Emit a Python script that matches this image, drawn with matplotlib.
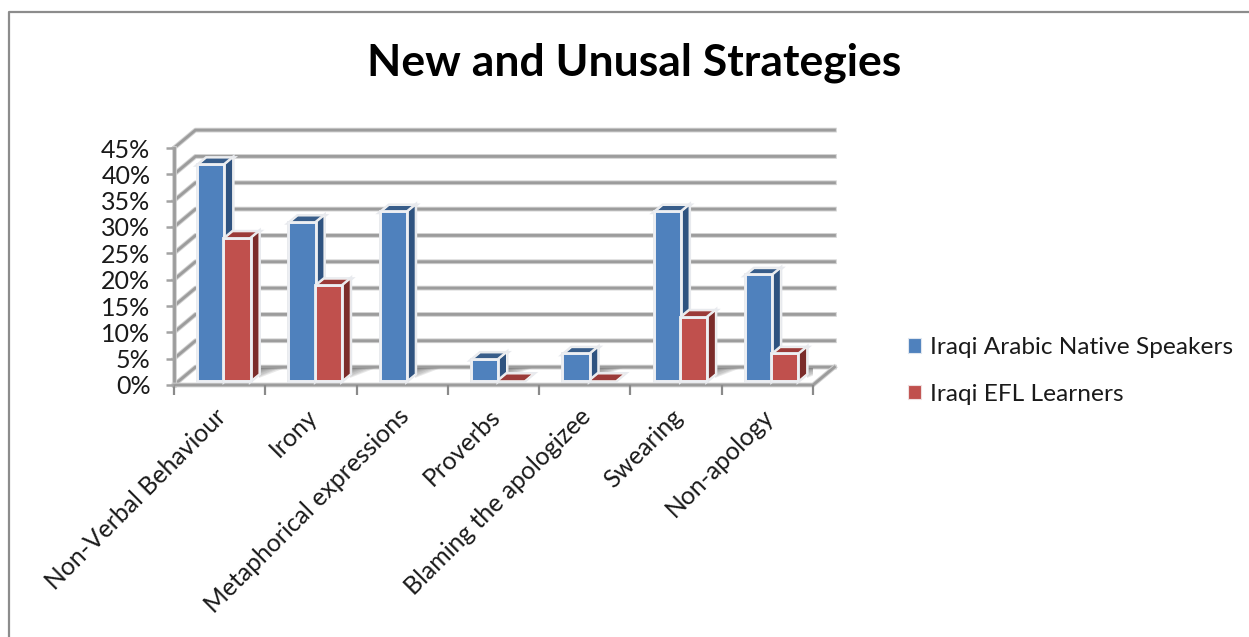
import numpy as np
import matplotlib
matplotlib.use('Agg')
import matplotlib.pyplot as plt
import matplotlib.patheffects as pe
from matplotlib.patches import Polygon, Rectangle
from matplotlib.lines import Line2D

categories = ['Non-Verbal Behaviour', 'Irony', 'Metaphorical expressions', 'Proverbs',
              'Blaming the apologizee', 'Swearing', 'Non-apology']
native = [41, 30, 32, 4, 5, 32, 20]
efl = [27, 18, np.nan, 0, 0, 12, 5]
series_names = ['Iraqi Arabic Native Speakers', 'Iraqi EFL Learners']
y_ticks = [0, 5, 10, 15, 20, 25, 30, 35, 40, 45]

W, H = 1249, 637
plt.rcParams['font.family'] = ['Lato', 'DejaVu Sans']

fig = plt.figure(figsize=(W / 100, H / 100), dpi=100)

# frame of the chart, only top and left are inside the crop
bg = fig.add_axes([0, 0, 1, 1])
bg.set_xlim(0, W)
bg.set_ylim(H, 0)
bg.axis('off')
bg.add_line(Line2D([9, 9, W], [H, 12, 12], color='#8c8c8c', lw=1.6))

# plot area: 7 categories over 174-813 px, 0-45% over 385-148 px
ax = fig.add_axes([174 / W, 1 - 385 / H, (813 - 174) / W, (385 - 148) / H])
ax.set_xlim(0, 7)
ax.set_ylim(0, 45)
ax.patch.set_alpha(0)
for s in ax.spines.values():
    s.set_visible(False)

# depth of the box and of the bars, in axis units
wall_dx, wall_dy = 0.235, 3.4
bar_dx, bar_dy = 0.09, 1.3
bar_off, bar_w = 0.265, 0.288
base_dy = 0.8
halo = [pe.withStroke(linewidth=2.8, foreground='#e8eaee')]


def soft_line(xs, ys, lw=2.0):
    ax.plot(xs, ys, color='#d0d0d0', lw=lw + 1.4, clip_on=False, zorder=1, solid_joinstyle='round')
    ax.plot(xs, ys, color='#9c9c9c', lw=lw, clip_on=False, zorder=1, solid_joinstyle='round')


# gridlines and walls
for t in y_ticks:
    soft_line([0, wall_dx, 7 + wall_dx], [t, t + wall_dy, t + wall_dy])
soft_line([0, 0], [0, 45])
soft_line([0, 7, 7 + wall_dx], [0, 0, wall_dy])


def draw_bars(values, offset, front, top, side):
    for i, v in enumerate(values):
        if np.isnan(v):
            continue
        x0 = i + offset
        x1 = x0 + bar_w
        y0 = base_dy
        y1 = y0 + v
        ax.add_patch(Polygon([[x0, y1], [x0 + bar_dx, y1 + bar_dy], [x1 + bar_dx, y1 + bar_dy], [x1, y1]],
                             fc=top, ec='#f2f2f2', lw=0.8, zorder=5, clip_on=False, path_effects=halo))
        if v > 0:
            ax.add_patch(Polygon([[x1, y0], [x1 + bar_dx, y0 + bar_dy], [x1 + bar_dx, y1 + bar_dy], [x1, y1]],
                                 fc=side, ec='#f2f2f2', lw=0.8, zorder=5, clip_on=False, path_effects=halo))
            ax.add_patch(Rectangle((x0, y0), bar_w, v, fc=front, ec='#eef0f4', lw=1.4, zorder=6,
                                   path_effects=halo))


# floor shadows behind the bars, stacked so they fade to the front right
for i, (a, b) in enumerate(zip(native, efl)):
    n_bars = 2 if b > 0 else 1
    x_end = i + bar_off + n_bars * bar_w + bar_dx
    for k in np.linspace(1, 0.25, 7):
        ax.add_patch(Polygon([[x_end, 3.2 - 1.9 * k], [x_end, 3.2], [x_end + 0.28 * k, 3.2]],
                             fc='#777777', alpha=0.16, ec='none', zorder=2))

draw_bars(native, bar_off, '#4f81bd', '#385d8a', '#2f5380')
draw_bars(efl, bar_off + bar_w, '#c0504d', '#9b3a38', '#7b2c2a')

ax.set_xticks(np.arange(8))
ax.set_xticklabels([])
ax.tick_params(axis='x', length=7, width=1.6, color='#8a8a8a', pad=2)
ax.set_yticks(y_ticks)
ax.set_yticklabels(['%d%%' % t for t in y_ticks], fontsize=18, color='#1a1a1a')
ax.tick_params(axis='y', length=6, width=1.8, color='#a3a3a3', pad=11)

# category labels end just under the tick gap, rotated 45 degrees
for i, c in enumerate(categories):
    ax.annotate(c, xy=(i + 0.53, 0), xytext=(0, -20), textcoords='offset points',
                rotation=45, rotation_mode='anchor', ha='right', va='center',
                fontsize=17.8, color='#1a1a1a')

fig.text(634 / W, 1 - 63 / H, 'New and Unusal Strategies', ha='center', va='center',
         fontsize=32, fontweight='bold', color='black')

# legend
handles = [Rectangle((0, 0), 1, 1, fc='#4f81bd', ec='#dfe6ef', lw=0.8),
           Rectangle((0, 0), 1, 1, fc='#c0504d', ec='#efdfdf', lw=0.8)]
fig.legend(handles, series_names, loc='center left', bbox_to_anchor=(908 / W, 1 - 371 / H),
           frameon=False, fontsize=17.6, handlelength=0.53, handleheight=0.53,
           handletextpad=0.37, labelspacing=1.05, labelcolor='#1a1a1a', borderpad=0, borderaxespad=0)

fig.savefig('out.png', dpi=100)
